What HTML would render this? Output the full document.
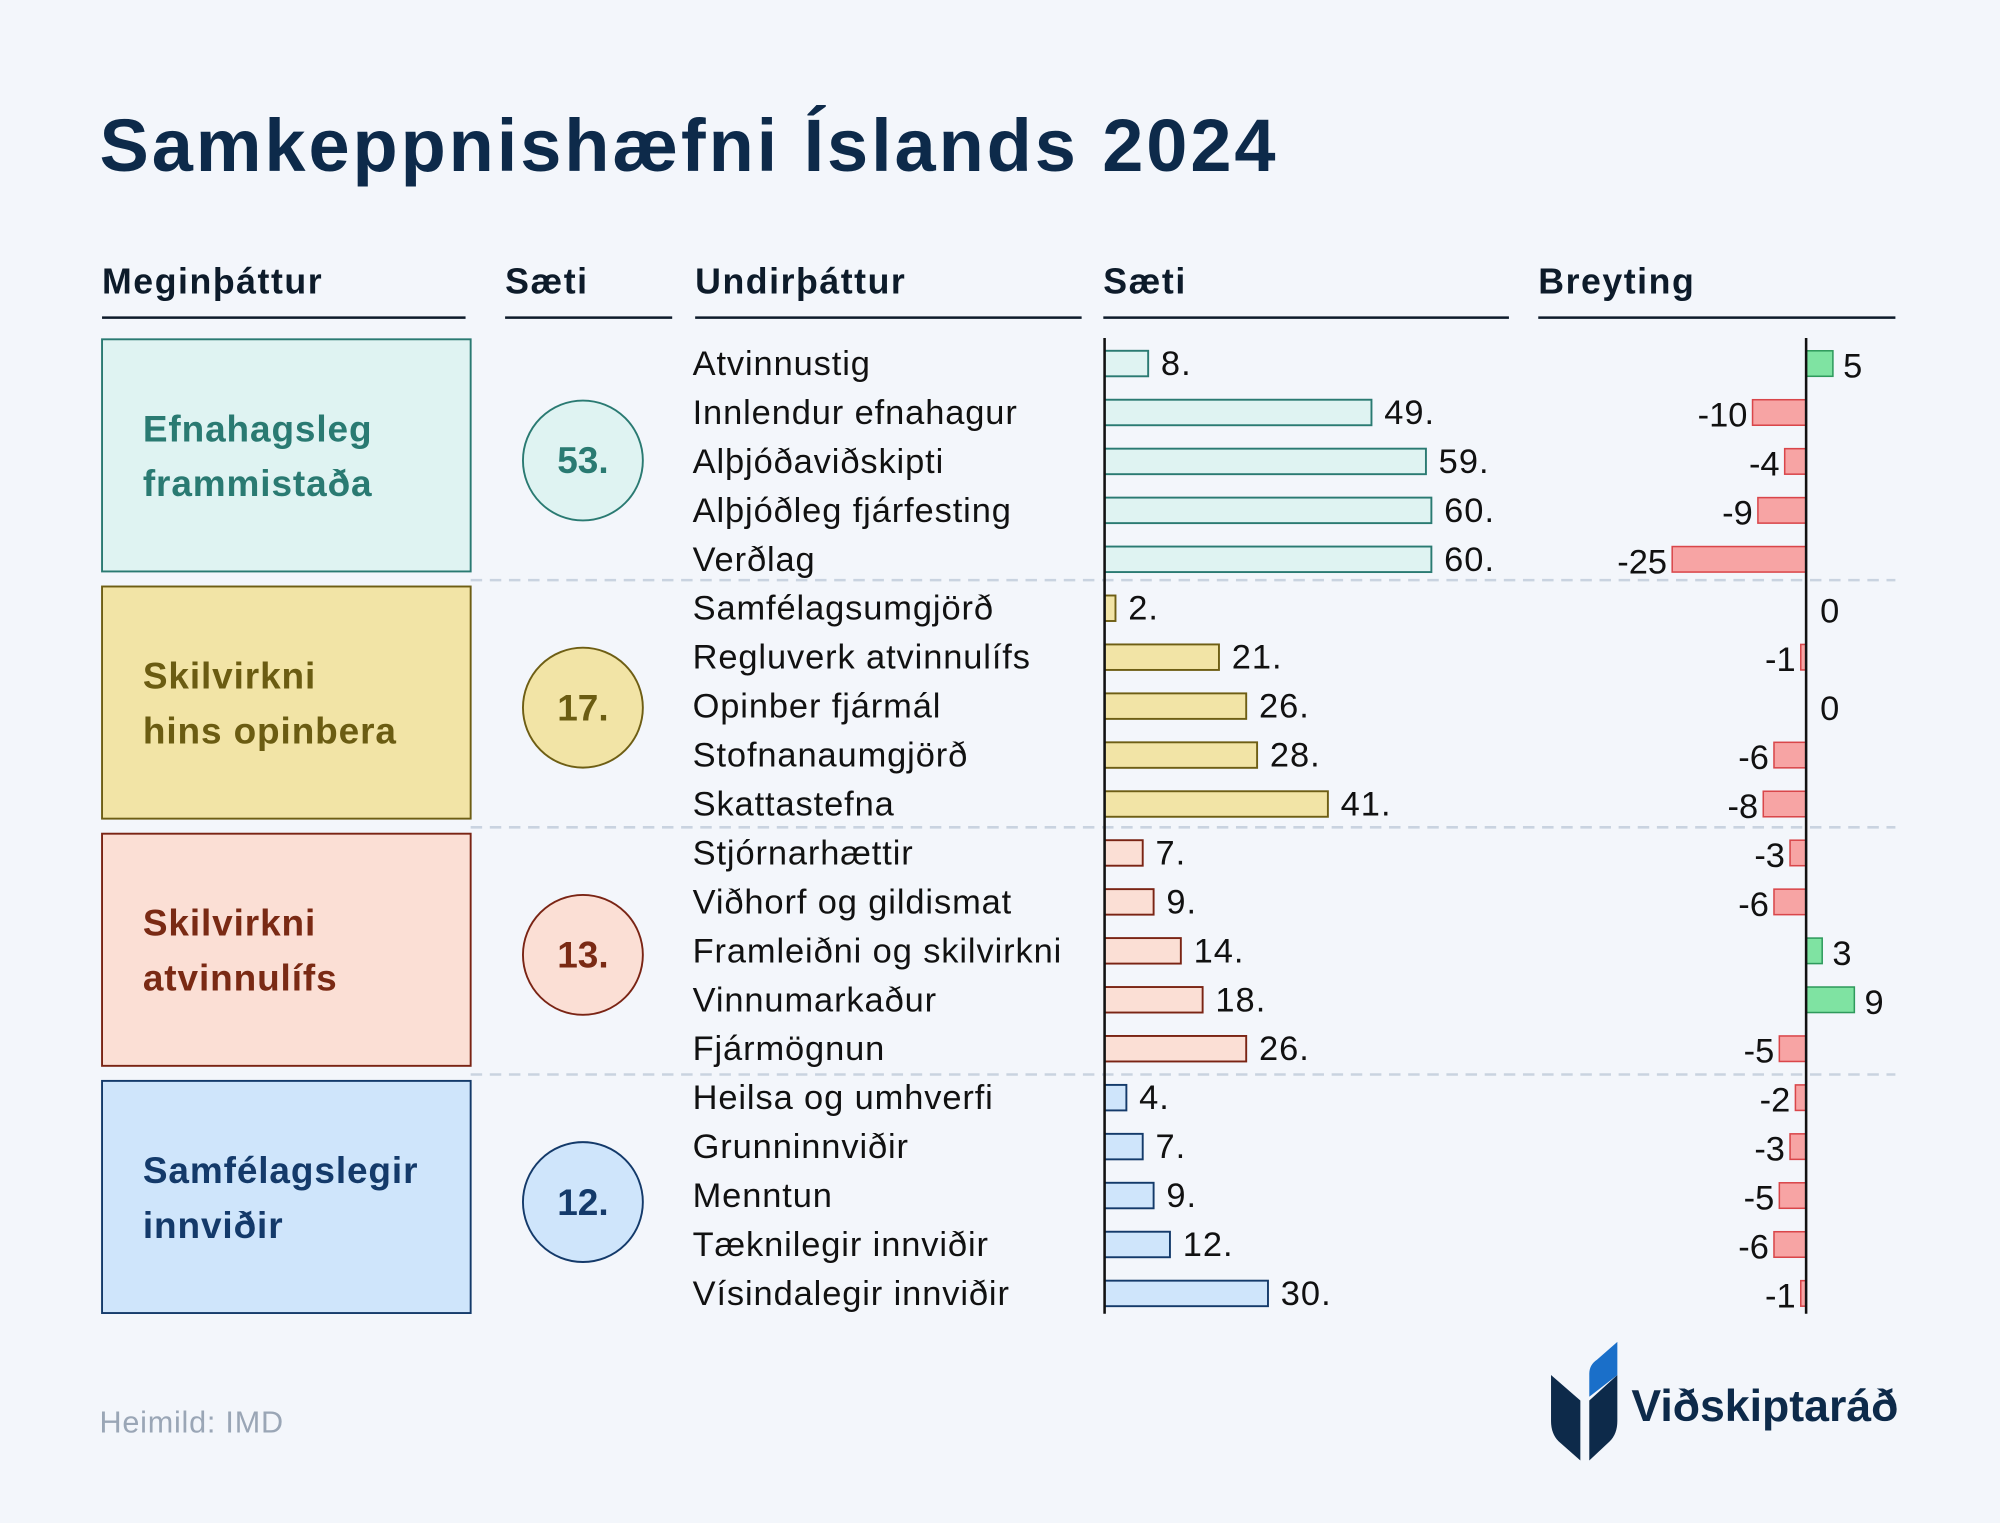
<!DOCTYPE html>
<html><head><meta charset="utf-8"><style>
html,body{margin:0;padding:0;background:#f3f6fb;}
svg{display:block;font-family:"Liberation Sans",sans-serif;}
</style></head><body>
<svg id="chart" width="2000" height="1523" viewBox="0 0 1568 1194" xmlns="http://www.w3.org/2000/svg">
<rect width="1568" height="1194" fill="#f3f6fb"/>
<text x="78" y="134" font-size="58" font-weight="bold" fill="#0d2a4a" textLength="922" lengthAdjust="spacing">Samkeppnishæfni Íslands 2024</text>
<g font-size="28" font-weight="bold" fill="#0d1b2a" letter-spacing="1.2">
<text x="80" y="230">Meginþáttur</text>
<text x="396" y="230">Sæti</text>
<text x="545" y="230">Undirþáttur</text>
<text x="865" y="230">Sæti</text>
<text x="1206" y="230">Breyting</text>
</g>
<g stroke="#0d1b2a" stroke-width="2">
<line x1="80" y1="249" x2="365" y2="249"/><line x1="396" y1="249" x2="527" y2="249"/>
<line x1="545" y1="249" x2="848" y2="249"/><line x1="865" y1="249" x2="1183" y2="249"/>
<line x1="1206" y1="249" x2="1486" y2="249"/>
</g>
<g id="groups"></g>
<g id="rows"></g>
<text x="78" y="1123" font-size="24" fill="#9aa6b6" letter-spacing="0.6">Heimild: IMD</text>
<g>
<path d="M1216,1078 L1239,1098 L1239,1145 L1222,1130 Q1216,1124 1216,1114 Z" fill="#0d2a4a"/>
<path d="M1268,1078 L1246,1098 L1246,1145 L1262,1130 Q1268,1124 1268,1114 Z" fill="#0d2a4a"/>
<path d="M1268,1052 L1268,1078 L1246,1095 L1246,1077 Q1246,1070 1252,1066 Z" fill="#1a6fc9"/>
<text x="1279" y="1114" font-size="35" font-weight="bold" fill="#0d2a4a">Viðskiptaráð</text>
</g>
<script>
const groupNames=[["Efnahagsleg","frammistaða"],["Skilvirkni","hins opinbera"],["Skilvirkni","atvinnulífs"],["Samfélagslegir","innviðir"]];
const groupRanks=[53,17,13,12];
const subNames=["Atvinnustig","Innlendur efnahagur","Alþjóðaviðskipti","Alþjóðleg fjárfesting","Verðlag","Samfélagsumgjörð","Regluverk atvinnulífs","Opinber fjármál","Stofnanaumgjörð","Skattastefna","Stjórnarhættir","Viðhorf og gildismat","Framleiðni og skilvirkni","Vinnumarkaður","Fjármögnun","Heilsa og umhverfi","Grunninnviðir","Menntun","Tæknilegir innviðir","Vísindalegir innviðir"];
const subRanks=[8,49,59,60,60,2,21,26,28,41,7,9,14,18,26,4,7,9,12,30];
const changes=[5,-10,-4,-9,-25,0,-1,0,-6,-8,-3,-6,3,9,-5,-2,-3,-5,-6,-1];
const NS="http://www.w3.org/2000/svg";
const fills=["#dff3f2","#f2e4a6","#fbdfd5","#cfe5fb"];
const strokes=["#2a7a72","#6e5e14","#7a2414","#143a6a"];
const texts=["#2a7a72","#6b5c12","#7a2a14","#143a6a"];
const rowY=i=>285+i*38.37;
const xRank=v=>866+v*4.27;
const xChg=v=>1416+v*4.2;
function mk(tag,attrs,parent){const e=document.createElementNS(NS,tag);for(const k in attrs)e.setAttribute(k,attrs[k]);parent.appendChild(e);return e;}
const G=document.getElementById("groups"),R=document.getElementById("rows");
groupNames.forEach((n,g)=>{
  const top=266+g*193.8;
  const b=mk("rect",{x:80,y:top,width:289,height:182,fill:fills[g],stroke:strokes[g],"stroke-width":1.5},G);
  
  
  const t=mk("text",{x:112,y:top+80,"font-size":29,"font-weight":"bold",fill:texts[g],"letter-spacing":0.7},G);
  
  
  mk("tspan",{x:112},t).textContent=n[0];
  mk("tspan",{x:112,dy:43},t).textContent=n[1];
  const cy=top+95;
  const c=mk("circle",{cx:457,cy:cy,r:47,fill:fills[g],stroke:strokes[g],"stroke-width":1.5},G);
  
  
  const ct=mk("text",{x:457,y:cy+10,"font-size":29,"font-weight":"bold",fill:texts[g],"text-anchor":"middle"},G);
  
  
  ct.textContent=groupRanks[g]+".";
  if(g>0){const d=mk("line",{x1:369,x2:1486,y1:top-5,y2:top-5,stroke:"#c9d3e0","stroke-width":2,"stroke-dasharray":"9 6"},G);
  
  }
});
subNames.forEach((n,i)=>{
  const y=rowY(i),g=Math.floor(i/5);
  const l=mk("text",{x:543,y:y+9,"font-size":27,fill:"#111","letter-spacing":0.7},R);
  
  
  l.textContent=n;
  const bw=xRank(subRanks[i])-866;
  const b=mk("rect",{x:866,y:y-10,width:bw,height:20,fill:fills[g],stroke:strokes[g],"stroke-width":1.5},R);
  
  
  const v=mk("text",{x:866+bw+10,y:y+9,"font-size":27,fill:"#111","letter-spacing":0.8},R);
  
  
  v.textContent=subRanks[i]+".";
  const c=changes[i];
  if(c!==0){
    const x0=Math.min(xChg(c),1416),w=Math.abs(xChg(c)-1416);
    const cb=mk("rect",{x:x0,y:y-10,width:w,height:20,fill:c>0?"#7fe3a2":"#f7a4a4",stroke:c>0?"#2e9a5c":"#d9464a","stroke-width":1.2},R);
    
    
  }
  const ct=mk("text",{x:c>=0?(c===0?1427:xChg(c)+8):xChg(c)-4,y:y+11,"font-size":27,fill:"#111","text-anchor":c<0?"end":"start"},R);
  
  
  ct.textContent=c;
});
const a1=mk("line",{x1:866,x2:866,y1:265,y2:1030,stroke:"#111","stroke-width":2},R);


const a2=mk("line",{x1:1416,x2:1416,y1:265,y2:1030,stroke:"#111","stroke-width":2},R);


</script>
</svg>
</body></html>
